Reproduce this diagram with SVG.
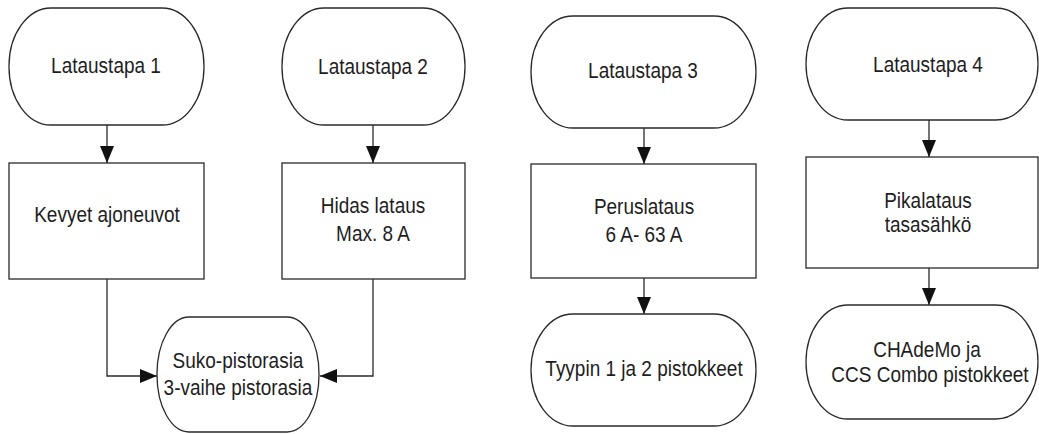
<svg xmlns="http://www.w3.org/2000/svg" width="1039" height="434" viewBox="0 0 1039 434">
<style>
.shape{fill:#fff;stroke:#2a2a2a;stroke-width:1.3}
.lbl{font-family:"Liberation Sans",Arial,sans-serif;font-size:19px;fill:#1e1e1e;text-anchor:middle}
.conn{fill:none;stroke:#2a2a2a;stroke-width:1.3}
</style>
<defs>
<marker id="arr" markerUnits="userSpaceOnUse" markerWidth="18" markerHeight="15" refX="17" refY="7.5" orient="auto">
<path d="M0,0.5 L17,7.5 L0,14.5 Z" fill="#111"/>
</marker>
</defs>
<rect width="1039" height="434" fill="#fff"/>
<g id="connectors">
<path class="conn" d="M107 125 V163" marker-end="url(#arr)"/>
<path class="conn" d="M373 125 V163" marker-end="url(#arr)"/>
<path class="conn" d="M644 128 V164" marker-end="url(#arr)"/>
<path class="conn" d="M929 120 V157" marker-end="url(#arr)"/>
<path class="conn" d="M107 279 V376 H157" marker-end="url(#arr)"/>
<path class="conn" d="M373 279 V376 H320" marker-end="url(#arr)"/>
<path class="conn" d="M644 259 V314" marker-end="url(#arr)"/>
<path class="conn" d="M929 260 V305" marker-end="url(#arr)"/>
</g>
<g id="t1"><rect class="shape" x="9" y="8" width="195" height="117" rx="42" ry="58"/>
<text class="lbl" transform="translate(106,73) scale(1,1.2)">Lataustapa 1</text></g>
<g id="t2"><rect class="shape" x="282" y="8" width="183" height="117" rx="42" ry="58"/>
<text class="lbl" transform="translate(373,74) scale(1,1.2)">Lataustapa 2</text></g>
<g id="t3"><rect class="shape" x="531" y="16" width="225" height="112" rx="42" ry="56"/>
<text class="lbl" transform="translate(643,78) scale(1,1.2)">Lataustapa 3</text></g>
<g id="t4"><rect class="shape" x="806" y="8" width="232" height="112" rx="42" ry="56"/>
<text class="lbl" transform="translate(928,72) scale(1,1.2)">Lataustapa 4</text></g>
<g id="b1"><rect class="shape" x="9" y="163" width="195" height="116"/>
<text class="lbl" transform="translate(107,222) scale(1,1.2)">Kevyet ajoneuvot</text></g>
<g id="b2"><rect class="shape" x="282" y="163" width="183" height="116"/>
<text class="lbl" transform="translate(373,213) scale(1,1.2)">Hidas lataus</text>
<text class="lbl" transform="translate(373,241) scale(1,1.2)">Max. 8 A</text></g>
<g id="b3"><rect class="shape" x="531" y="164" width="225" height="114"/>
<text class="lbl" transform="translate(644,214) scale(1,1.2)">Peruslataus</text>
<text class="lbl" transform="translate(644,242) scale(1,1.2)">6 A- 63 A</text></g>
<g id="b4"><rect class="shape" x="806" y="157" width="232" height="111"/>
<text class="lbl" transform="translate(928,208) scale(1,1.2)">Pikalataus</text>
<text class="lbl" transform="translate(928,232) scale(1,1.2)">tasasähkö</text></g>
<g id="e1"><rect class="shape" x="157" y="317" width="162" height="115" rx="32" ry="57"/>
<text class="lbl" transform="translate(238,368) scale(1,1.2)">Suko-pistorasia</text>
<text class="lbl" transform="translate(238,395) scale(1,1.2)">3-vaihe pistorasia</text></g>
<g id="e2"><rect class="shape" x="531" y="314" width="225" height="112" rx="42" ry="56"/>
<text class="lbl" transform="translate(644,376) scale(1,1.2)">Tyypin 1 ja 2 pistokkeet</text></g>
<g id="e3"><rect class="shape" x="806" y="305" width="232" height="114" rx="42" ry="57"/>
<text class="lbl" transform="translate(927,357) scale(1,1.2)">CHAdeMo ja</text>
<text class="lbl" transform="translate(930,382) scale(1,1.2)">CCS Combo pistokkeet</text></g>
</svg>
